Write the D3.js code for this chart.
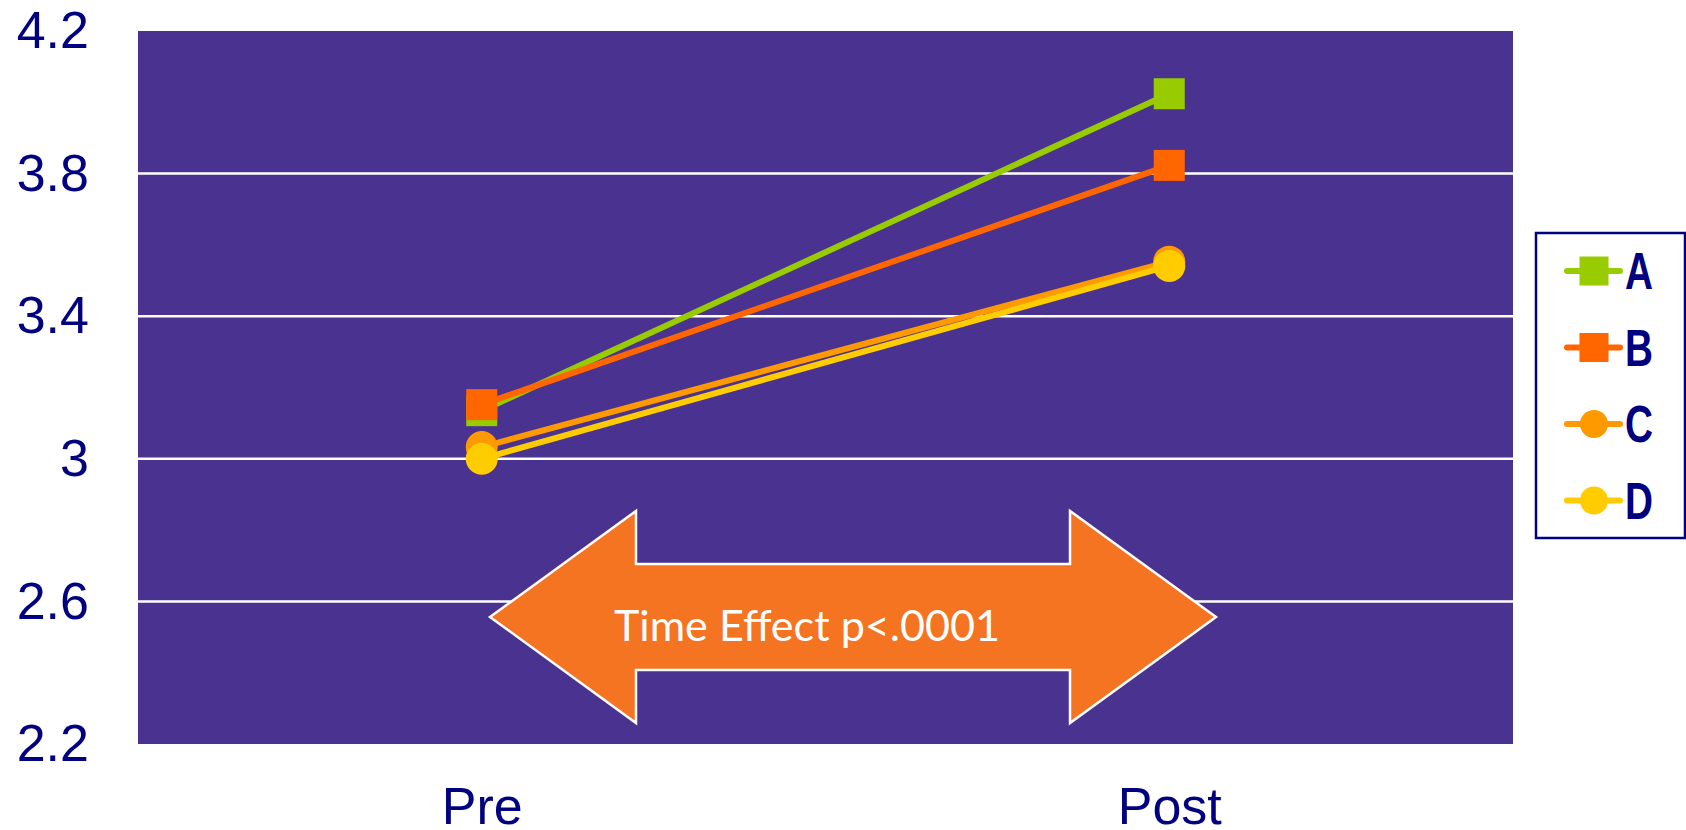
<!DOCTYPE html>
<html>
<head>
<meta charset="utf-8">
<script src="https://cdn.jsdelivr.net/npm/d3@7"></script>
<style>
  html, body { margin: 0; padding: 0; background: #ffffff; }
  svg { display: block; }
</style>
</head>
<body>
<svg id="chart" width="1686" height="830"></svg>
<script>
// Time points on the x axis
const categories = ["Pre", "Post"];

// Group names and their mean scores at each time point
const seriesNames = ["A", "B", "C", "D"];
const valuesA = [3.135, 4.024];
const valuesB = [3.152, 3.823];
const valuesC = [3.033, 3.553];
const valuesD = [3.000, 3.541];

// Y axis tick values and their labels
const yTickValues = [2.2, 2.6, 3.0, 3.4, 3.8, 4.2];
const yTickLabels = ["2.2", "2.6", "3", "3.4", "3.8", "4.2"];

const annotationText = "Time Effect p<.0001";

// Presentation
const seriesColors = ["#99CC00", "#FF6600", "#FF9900", "#FFCC00"];
const seriesShapes = ["square", "square", "circle", "circle"];
const axisColor = "#000080";
const plotBg = "#4A3290";

const plot = { left: 138, right: 1513, top: 31, bottom: 744 };

const series = seriesNames.map((name, i) => ({
  name,
  values: [valuesA, valuesB, valuesC, valuesD][i],
  color: seriesColors[i],
  shape: seriesShapes[i]
}));

const svg = d3.select("#chart");

const x = d3.scalePoint()
  .domain(categories)
  .range([plot.left, plot.right])
  .padding(0.5);

const y = d3.scaleLinear()
  .domain([2.2, 4.2])
  .range([plot.bottom, plot.top]);

// Plot background
svg.append("rect")
  .attr("x", plot.left)
  .attr("y", plot.top)
  .attr("width", plot.right - plot.left)
  .attr("height", plot.bottom - plot.top)
  .attr("fill", plotBg);

// Horizontal gridlines (inner ticks only)
svg.append("g")
  .selectAll("line")
  .data(yTickValues.filter(v => v > 2.2 && v < 4.2))
  .join("line")
  .attr("x1", plot.left)
  .attr("x2", plot.right)
  .attr("y1", d => y(d))
  .attr("y2", d => y(d))
  .attr("stroke", "#ffffff")
  .attr("stroke-width", 2.5);

// Y axis labels
const yAxis = d3.axisLeft(y)
  .tickValues(yTickValues)
  .tickFormat((d, i) => yTickLabels[i])
  .tickSize(0)
  .tickPadding(49);

const gy = svg.append("g")
  .attr("transform", `translate(${plot.left},0)`)
  .call(yAxis);
gy.select(".domain").remove();
gy.selectAll("text")
  .attr("fill", axisColor)
  .attr("font-family", "'Liberation Sans', Arial, sans-serif")
  .attr("font-size", 52);

// X axis labels
const xAxis = d3.axisBottom(x).tickSize(0).tickPadding(43);
const gx = svg.append("g")
  .attr("transform", `translate(0,${plot.bottom})`)
  .call(xAxis);
gx.select(".domain").remove();
gx.selectAll("text")
  .attr("fill", axisColor)
  .attr("font-family", "'Liberation Sans', Arial, sans-serif")
  .attr("font-size", 52);

// Two-headed arrow annotation
const arrow = { xl: 490, xr: 1216, headL: 636, headR: 1070, yc: 617, shaftHalf: 53, headHalf: 106 };
const arrowPts = [
  [arrow.xl, arrow.yc],
  [arrow.headL, arrow.yc - arrow.headHalf],
  [arrow.headL, arrow.yc - arrow.shaftHalf],
  [arrow.headR, arrow.yc - arrow.shaftHalf],
  [arrow.headR, arrow.yc - arrow.headHalf],
  [arrow.xr, arrow.yc],
  [arrow.headR, arrow.yc + arrow.headHalf],
  [arrow.headR, arrow.yc + arrow.shaftHalf],
  [arrow.headL, arrow.yc + arrow.shaftHalf],
  [arrow.headL, arrow.yc + arrow.headHalf]
];
svg.append("path")
  .attr("d", d3.line()(arrowPts) + "Z")
  .attr("fill", "#F47421")
  .attr("stroke", "#ffffff")
  .attr("stroke-width", 2.5)
  .attr("stroke-linejoin", "miter");

svg.append("text")
  .attr("x", 614)
  .attr("y", 641)
  .attr("fill", "#ffffff")
  .attr("font-family", "Lato, 'Open Sans', sans-serif")
  .attr("font-size", 43)
  .attr("textLength", 386)
  .attr("lengthAdjust", "spacingAndGlyphs")
  .text(annotationText);

// Series lines and markers
const line = d3.line()
  .x((d, i) => x(categories[i]))
  .y(d => y(d));

function drawMarker(g, shape, color, cx, cy, size) {
  if (shape === "square") {
    g.append("rect")
      .attr("x", cx - size / 2)
      .attr("y", cy - size / 2)
      .attr("width", size)
      .attr("height", size)
      .attr("fill", color);
  } else {
    g.append("circle")
      .attr("cx", cx)
      .attr("cy", cy)
      .attr("r", size / 2)
      .attr("fill", color);
  }
}

series.forEach(s => {
  const g = svg.append("g");
  g.append("path")
    .attr("d", line(s.values))
    .attr("fill", "none")
    .attr("stroke", s.color)
    .attr("stroke-width", 6);
  s.values.forEach((v, i) => {
    drawMarker(g, s.shape, s.color, x(categories[i]), y(v), s.shape === "square" ? 31 : 32);
  });
});

// Legend
const legend = { x: 1536, y: 233, w: 149, h: 305, rowStart: 271, rowStep: 76.5 };
svg.append("rect")
  .attr("x", legend.x)
  .attr("y", legend.y)
  .attr("width", legend.w)
  .attr("height", legend.h)
  .attr("fill", "#ffffff")
  .attr("stroke", axisColor)
  .attr("stroke-width", 2.5);

series.forEach((s, i) => {
  const cy = legend.rowStart + i * legend.rowStep;
  const g = svg.append("g");
  g.append("line")
    .attr("x1", 1567).attr("x2", 1620)
    .attr("y1", cy).attr("y2", cy)
    .attr("stroke", s.color)
    .attr("stroke-width", 6)
    .attr("stroke-linecap", "round");
  drawMarker(g, s.shape, s.color, 1594, cy, s.shape === "square" ? 29 : 28);
  // condensed bold label
  g.append("text")
    .attr("transform", `translate(1625,${cy + 18}) scale(0.76,1)`)
    .attr("fill", axisColor)
    .attr("font-family", "'Liberation Sans', Arial, sans-serif")
    .attr("font-weight", "bold")
    .attr("font-size", 51)
    .text(s.name);
});
</script>
</body>
</html>
